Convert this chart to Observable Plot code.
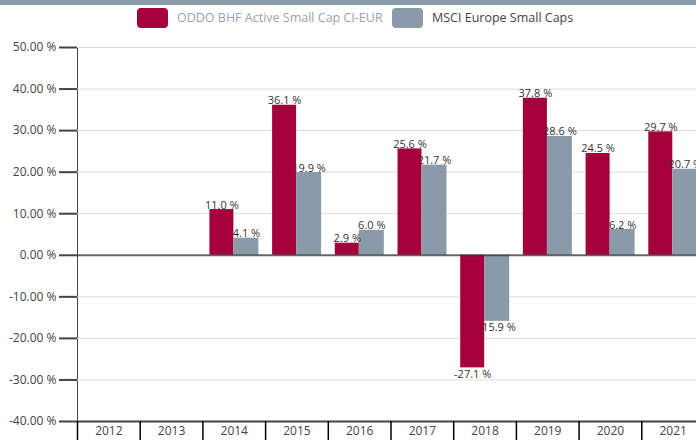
<!DOCTYPE html>
<html>
<head>
<meta charset="utf-8">
<script src="https://cdn.jsdelivr.net/npm/d3@7"></script>
<script src="https://cdn.jsdelivr.net/npm/@observablehq/plot@0.6"></script>
<style>
  html, body { margin: 0; padding: 0; background: #fff; overflow: hidden; }
  body { width: 696px; height: 440px; font-family: "Open Sans", sans-serif; }
  .topbar { height: 5px; background: #8a9aa8; }
  .legend { height: 30px; position: relative; font-size: 12.5px; }
  .legend .sw { position: absolute; top: 3px; width: 31px; height: 20px; border-radius: 4px; }
  .legend .lb { position: absolute; top: 3px; line-height: 20px; white-space: nowrap; }
  #chart { width: 696px; overflow: hidden; }
  #chart svg { overflow: hidden; }
  [aria-label^="y-axis"] line, [aria-label="y-axis tick"] path { stroke-width: 2; }
</style>
</head>
<body>
<div class="topbar"></div>
<div class="legend" id="legend"></div>
<div id="chart"></div>
<script>
const years = ["2012","2013","2014","2015","2016","2017","2018","2019","2020","2021"];
const seriesNames = ["ODDO BHF Active Small Cap CI-EUR", "MSCI Europe Small Caps"];
const fundValues  = [null, null, 11.0, 36.1, 2.9, 25.6, -27.1, 37.8, 24.5, 29.7];
const indexValues = [null, null, 4.1, 19.9, 6.0, 21.7, -15.9, 28.6, 6.2, 20.7];
const yTicks = [-40, -30, -20, -10, 0, 10, 20, 30, 40, 50];
const colors = ["#a5003c", "#8a9aa8"];

// legend
const legend = document.getElementById("legend");
const legendLayout = [{sw: 137, lb: 177, color: "#9aa3ab"}, {sw: 392, lb: 432, color: "#444"}];
seriesNames.forEach((name, i) => {
  const sw = document.createElement("div");
  sw.className = "sw"; sw.style.left = legendLayout[i].sw + "px"; sw.style.background = colors[i];
  const lb = document.createElement("div");
  lb.className = "lb"; lb.style.left = legendLayout[i].lb + "px"; lb.style.color = legendLayout[i].color;
  lb.textContent = name;
  legend.appendChild(sw); legend.appendChild(lb);
});

const fund = years.map((y, i) => ({year: y, value: fundValues[i]})).filter(d => d.value != null);
const index = years.map((y, i) => ({year: y, value: indexValues[i]})).filter(d => d.value != null);

const xLeft = 77, xRight = 704;
const step = (xRight - xLeft) / years.length;
const fmt = d => d.value.toFixed(1) + " %";
const pos = d => d.value >= 0, neg = d => d.value < 0;

const labelMarks = (data, dx) => [
  Plot.text(data.filter(pos), {x: "year", y: "value", text: fmt, dx, dy: -1, lineAnchor: "bottom", fill: "#333", fontSize: 11}),
  Plot.text(data.filter(neg), {x: "year", y: "value", text: fmt, dx, dy: 2, lineAnchor: "top", fill: "#333", fontSize: 11})
];

const chart = Plot.plot({
  width: 696,
  height: 405,
  marginTop: 12,
  marginBottom: 19,
  marginLeft: 77,
  marginRight: 0,
  style: {fontFamily: "Open Sans, sans-serif", fontSize: "12px", color: "#444", overflow: "hidden"},
  x: {domain: years, range: [xLeft, xRight], padding: 0, round: false, tickSize: 0, tickPadding: 5, label: null},
  y: {domain: [-40, 50], ticks: yTicks, tickSize: 18, tickPadding: 3, tickFormat: d => d.toFixed(2) + " %", label: null, line: true},
  marks: [
    Plot.ruleY(yTicks.filter(d => d !== 0 && d !== -40), {stroke: "#ddd", strokeWidth: 1}),
    Plot.barY(fund, {x: "year", y: "value", fill: colors[0], insetLeft: 7, insetRight: step - 31}),
    Plot.barY(index, {x: "year", y: "value", fill: colors[1], insetLeft: 31, insetRight: step - 56}),
    Plot.ruleY([0], {stroke: "#333", strokeWidth: 2, strokeOpacity: 0.75}),
    Plot.ruleY([-40], {stroke: "#444", strokeWidth: 2}),
    Plot.ruleX(years, {x: d => d, y1: -40, y2: -40, insetBottom: -19, dx: -step / 2, stroke: "#000", strokeWidth: 1.5}),
    ...labelMarks(fund, 19 - step / 2),
    ...labelMarks(index, 43.5 - step / 2)
  ]
});
document.getElementById("chart").appendChild(chart);
</script>
</body>
</html>
